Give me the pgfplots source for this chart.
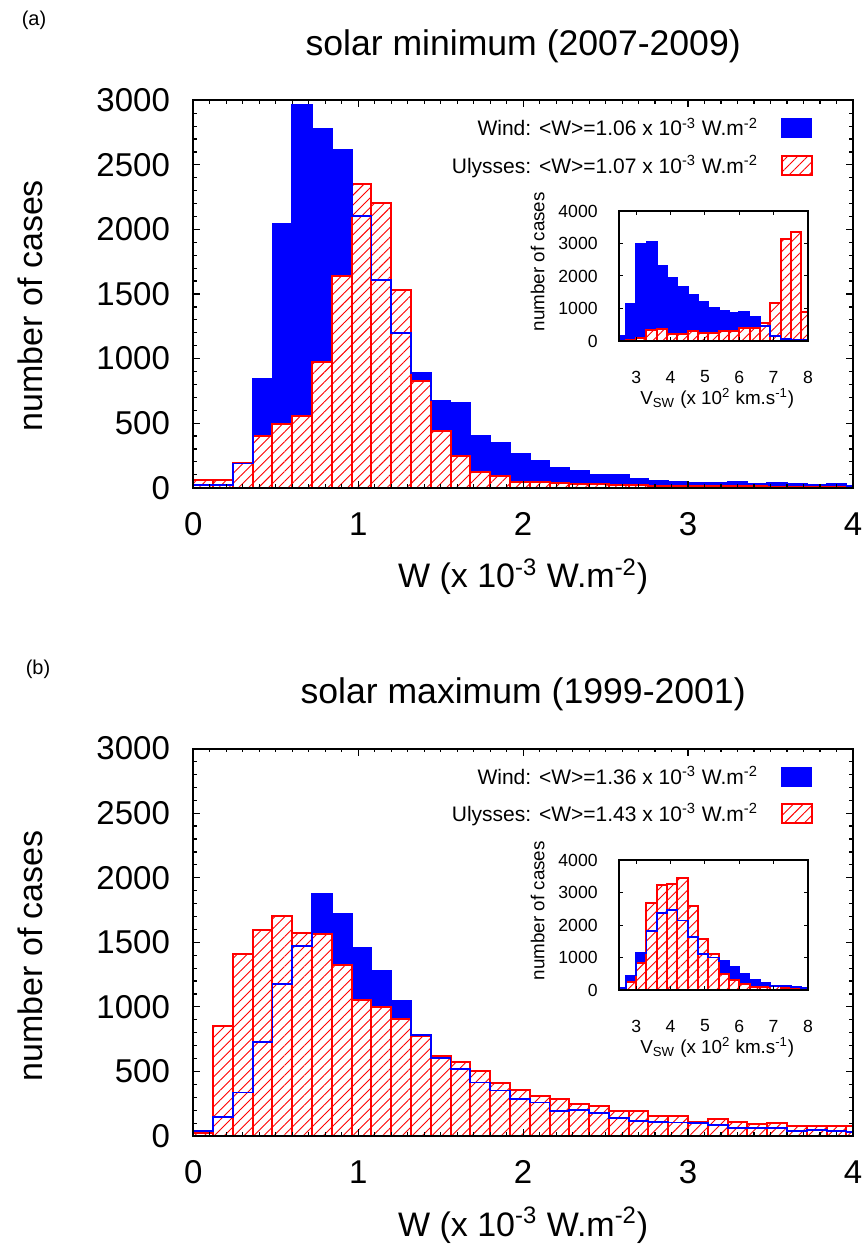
\documentclass[border=0pt]{standalone}
\usepackage{fontspec}
\setmainfont{Liberation Sans}
\usepackage{pgfplots}
\pgfplotsset{compat=1.18}
\usepackage{pgfplotstable}
\usetikzlibrary{patterns.meta}

% W histograms, bin width 0.12; each row = left edge, last row closes the last bin
\pgfplotstableread{
x     wind  uly
0.00  18    59
0.12  18    59
0.24  188   194
0.36  842   403
0.48  2040  494
0.60  2961  552
0.72  2780  973
0.84  2618  1637
0.96  2104  2349
1.08  1606  2205
1.20  1200  1534
1.32  891   826
1.44  675   442
1.56  660   248
1.68  401   124
1.80  344   90
1.92  261   44
2.04  209   44
2.16  150   34
2.28  132   30
2.40  103   26
2.52  98    22
2.64  65    24
2.76  55    16
2.88  47    15
3.00  41    12
3.12  34    10
3.24  44    10
3.36  26    10
3.48  36    8
3.60  26    8
3.72  18    8
3.84  31    8
3.96  13    8
4.08  13    8
}\minW

\pgfplotstableread{
x     wind  uly
0.00  41    26
0.12  150   855
0.24  337   1412
0.36  725   1599
0.48  1179  1702
0.60  1472  1575
0.72  1878  1562
0.84  1723  1327
0.96  1456  1054
1.08  1275  997
1.20  1049  907
1.32  785   777
1.44  604   622
1.56  518   570
1.68  414   505
1.80  352   409
1.92  285   357
2.04  259   311
2.16  194   290
2.28  202   249
2.40  181   236
2.52  142   194
2.64  119   190
2.76  111   155
2.88  104   155
3.00  98    111
3.12  83    130
3.24  65    111
3.36  60    91
3.48  65    104
3.60  39    80
3.72  47    78
3.84  39    78
3.96  31    78
4.08  31    78
}\maxW

% V_SW histograms (x 10^2 km/s), bin width 0.3
\pgfplotstableread{
x    wind  uly
2.4  154   0
2.7  1128  20
3.0  2975  103
3.3  3058  339
3.6  2308  380
3.9  1929  215
4.2  1672  205
4.5  1416  318
4.8  1210  256
5.1  1005  236
5.4  934   308
5.7  872   308
6.0  903   390
6.3  749   410
6.6  462   544
6.9  154   1159
7.2  51    3140
7.5  31    3345
7.8  20    893
8.1  20    893
}\minV

\pgfplotstableread{
x    wind  uly
2.4  51    0
2.7  448   254
3.0  1140  845
3.3  1812  2677
3.6  2362  3227
3.9  2464  3247
4.2  2138  3461
4.5  1629  2596
4.8  1100  1557
5.1  998   1120
5.4  896   478
5.7  713   305
6.0  509   183
6.3  305   102
6.6  204   102
6.9  122   132
7.2  132   51
7.5  102   20
7.8  71    20
8.1  71    20
}\maxV

\tikzset{hatchred/.style={pattern={Lines[angle=45,distance=3.5pt,line width=0.45pt]}, pattern color=red}}

\pgfplotsset{
  /pgf/number format/assume math mode=true,
  /pgf/number format/1000 sep={},
  scaled ticks=false,
  windbars/.style={ybar interval, fill=blue, draw=blue, line width=0.4pt,
    legend image code/.code={\fill[blue] (0pt,-4.75pt) rectangle (15pt,4.75pt);}},
  ulybars/.style={ybar interval, draw=red, line width=1pt, preaction={fill=white}, hatchred,
    legend image code/.code={\draw[red, line width=0.8pt, preaction={fill=white}, hatchred] (0pt,-4.75pt) rectangle (15pt,4.75pt);}},
  windline/.style={const plot mark left, blue, line width=0.9pt, forget plot},
  hist/.style={
    scale only axis, axis on top,
    width=329.85pt, height=193.7pt,
    xmin=0, xmax=4, ymin=0, ymax=3000,
    xtick={0,1,2,3,4}, ytick={0,500,...,3000},
    minor x tick num=9, minor y tick num=4,
    tick align=inside, major tick length=3.5pt, minor tick length=1.8pt,
    every tick/.style={black, line width=0.6pt},
    axis line style={line width=1pt},
    tick label style={font=\fontsize{16.5}{18}\selectfont},
    xticklabel style={anchor=center, inner sep=0pt, yshift=-18pt},
    yticklabel style={anchor=east, inner sep=0pt, xshift=-11.5pt},
    xlabel={W (x 10\textsuperscript{-3} W.m\textsuperscript{-2})},
    ylabel={number of cases},
    every axis x label/.style={at={(axis description cs:0.5,-0.23)}, anchor=center, font=\fontsize{17}{19}\selectfont},
    every axis y label/.style={at={(axis description cs:-0.2475,0.47)}, rotate=90, anchor=center, font=\fontsize{17}{19}\selectfont},
    every axis title/.style={at={(axis description cs:0.5,1)}, anchor=center, yshift=27pt, font=\fontsize{17.8}{20}\selectfont},
    legend style={draw=none, fill=none, at={(rel axis cs:0.9394,0.956)}, anchor=north east,
      inner sep=0pt, row sep=8pt, column sep=11.5pt,
      nodes={inner sep=0pt, font=\fontsize{10.5}{12}\selectfont}},
    legend cell align=right, legend plot pos=right,
  },
  inset/.style={
    scale only axis, axis on top,
    width=94.5pt, height=65pt,
    xmin=2.5, xmax=8, ymin=0, ymax=4000,
    xtick={3,...,8}, ytick={0,1000,...,4000},
    tick align=inside, major tick length=2.2pt,
    every tick/.style={black, line width=0.5pt},
    axis line style={line width=0.8pt},
    tick label style={font=\fontsize{8.8}{10}\selectfont},
    xticklabel style={anchor=center, inner sep=0pt, yshift=-18pt},
    yticklabel style={anchor=east, inner sep=0pt, xshift=-10.5pt},
    xlabel={V\textsubscript{SW} (x 10\textsuperscript{2} km.s\textsuperscript{-1})},
    ylabel={number of cases},
    every axis x label/.style={at={(axis description cs:0.52,-0.44)}, anchor=center, font=\fontsize{9.4}{11}\selectfont},
    every axis y label/.style={at={(axis description cs:-0.43,0.61)}, rotate=90, anchor=center, font=\fontsize{9.4}{11}\selectfont},
  },
}

\begin{document}
\begin{tikzpicture}
\useasboundingbox (0,0) rectangle (433pt,-625.5pt);

\node[font=\fontsize{10}{12}\selectfont] at (17pt,-10pt) {(a)};
\node[font=\fontsize{10}{12}\selectfont] at (19pt,-334.5pt) {(b)};

% (a) solar minimum
\begin{axis}[hist, at={(96.65pt,-243.85pt)}, anchor=south west,
  title={solar minimum (2007-2009)}]
  \addplot[windbars] table[x=x, y=wind]{\minW};
  \addlegendentry{Wind: <W>=1.06 x 10\textsuperscript{-3} W.m\textsuperscript{-2}}
  \addplot[ulybars] table[x=x, y=uly]{\minW};
  \addlegendentry{Ulysses: <W>=1.07 x 10\textsuperscript{-3} W.m\textsuperscript{-2}}
  \addplot[windline] table[x=x, y=wind]{\minW};
\end{axis}

\begin{axis}[inset, at={(309.5pt,-170.5pt)}, anchor=south west]
  \addplot[windbars] table[x=x, y=wind]{\minV};
  \addplot[ulybars] table[x=x, y=uly]{\minV};
  \addplot[windline] table[x=x, y=wind]{\minV};
\end{axis}

% (b) solar maximum
\begin{axis}[hist, at={(96.65pt,-568pt)}, anchor=south west,
  title={solar maximum (1999-2001)},
  every axis y label/.append style={at={(axis description cs:-0.2475,0.465)}}]
  \addplot[windbars] table[x=x, y=wind]{\maxW};
  \addlegendentry{Wind: <W>=1.36 x 10\textsuperscript{-3} W.m\textsuperscript{-2}}
  \addplot[ulybars] table[x=x, y=uly]{\maxW};
  \addlegendentry{Ulysses: <W>=1.43 x 10\textsuperscript{-3} W.m\textsuperscript{-2}}
  \addplot[windline] table[x=x, y=wind]{\maxW};
\end{axis}

\begin{axis}[inset, at={(309.5pt,-495pt)}, anchor=south west]
  \addplot[windbars] table[x=x, y=wind]{\maxV};
  \addplot[ulybars] table[x=x, y=uly]{\maxV};
  \addplot[windline] table[x=x, y=wind]{\maxV};
\end{axis}
\end{tikzpicture}
\end{document}
